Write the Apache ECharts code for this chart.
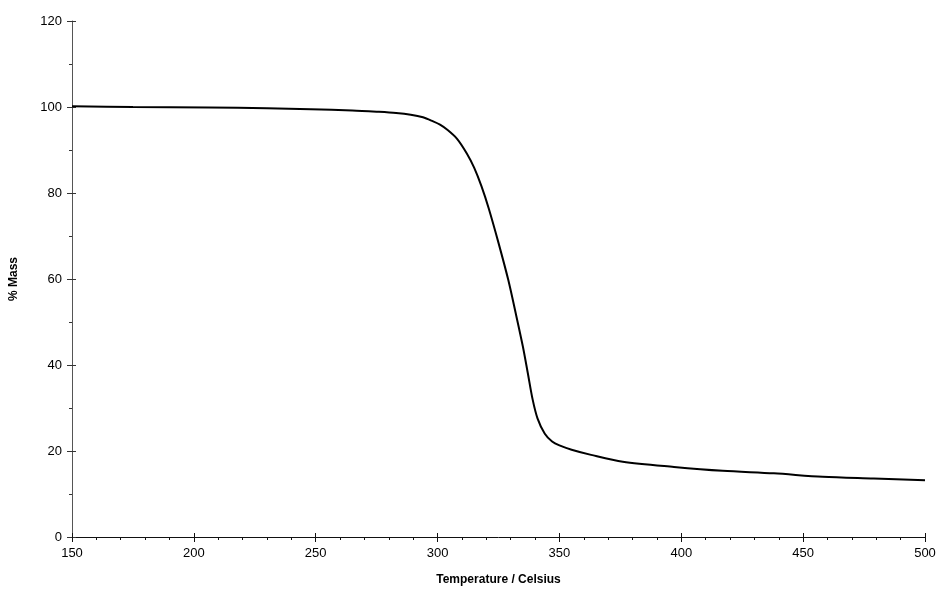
<!DOCTYPE html>
<html>
<head>
<meta charset="utf-8">
<script src="https://cdn.jsdelivr.net/npm/echarts@6/dist/echarts.min.js"></script>
<style>
html,body{margin:0;padding:0;background:#fff;}
#chart{width:941px;height:608px;}
</style>
</head>
<body>
<div id="chart"></div>
<script>
var temperature = [150, 175, 206, 230, 248, 265, 275, 283, 289, 294, 298, 301, 304, 308, 312, 315, 318, 321, 325, 329, 332, 335, 337, 339, 341, 344, 347, 350, 355, 363, 376, 397, 417, 438, 458, 479, 500];
var massPercent = [100.2, 100.0, 99.9, 99.7, 99.5, 99.2, 98.9, 98.6, 98.2, 97.6, 96.7, 95.9, 94.7, 92.6, 89.2, 85.9, 81.6, 76.4, 68.4, 59.8, 52.2, 44.3, 38.2, 32.0, 27.6, 24.0, 22.2, 21.3, 20.3, 19.1, 17.5, 16.3, 15.4, 14.8, 14.0, 13.6, 13.2];
var xTicks = [150, 200, 250, 300, 350, 400, 450, 500];
var yTicks = [0, 20, 40, 60, 80, 100, 120];

var fontFam = '"Liberation Sans", Arial, sans-serif';
var points = temperature.map(function (t, i) { return [t, massPercent[i]]; });

var chart = echarts.init(document.getElementById('chart'));
chart.setOption({
  animation: false,
  backgroundColor: '#ffffff',
  grid: { left: 72, right: 16, top: 21, bottom: 71, containLabel: false },
  xAxis: [{
    type: 'value',
    min: xTicks[0], max: xTicks[xTicks.length - 1], interval: 50,
    name: 'Temperature / Celsius',
    nameLocation: 'middle', nameGap: 37,
    nameTextStyle: { fontFamily: fontFam, fontSize: 12, fontWeight: 'bold', color: '#000' },
    axisLine: { show: true, lineStyle: { color: '#111', width: 1 } },
    axisTick: { show: true, length: 5, lineStyle: { color: '#111' } },
    minorTick: { show: true, splitNumber: 5, length: 3, lineStyle: { color: '#111' } },
    axisLabel: { fontFamily: fontFam, fontSize: 13, color: '#000', margin: 10 },
    splitLine: { show: false }
  }, {
    type: 'value', position: 'bottom', offset: 0,
    min: xTicks[0], max: xTicks[xTicks.length - 1], interval: 50,
    axisLine: { show: false },
    axisTick: { show: true, inside: true, length: 4, lineStyle: { color: '#111' } },
    axisLabel: { show: false },
    splitLine: { show: false }
  }],
  yAxis: [{
    type: 'value',
    min: yTicks[0], max: yTicks[yTicks.length - 1], interval: 20,
    name: '% Mass',
    nameLocation: 'middle', nameGap: 52,
    nameTextStyle: { fontFamily: fontFam, fontSize: 12, fontWeight: 'bold', color: '#000' },
    axisLine: { show: true, lineStyle: { color: '#555', width: 1 } },
    axisTick: { show: true, length: 5, lineStyle: { color: '#333' } },
    minorTick: { show: true, splitNumber: 2, length: 3, lineStyle: { color: '#333' } },
    axisLabel: { fontFamily: fontFam, fontSize: 13, color: '#000', margin: 10 },
    splitLine: { show: false }
  }, {
    type: 'value', position: 'left', offset: 0,
    min: yTicks[0], max: yTicks[yTicks.length - 1], interval: 20,
    axisLine: { show: false },
    axisTick: { show: true, inside: true, length: 4, lineStyle: { color: '#333' } },
    axisLabel: { show: false },
    splitLine: { show: false }
  }],
  series: [{
    type: 'line',
    data: points,
    smooth: 0.3,
    showSymbol: false,
    lineStyle: { color: '#000', width: 2 },
    xAxisIndex: 0, yAxisIndex: 0
  }]
});
</script>
</body>
</html>
